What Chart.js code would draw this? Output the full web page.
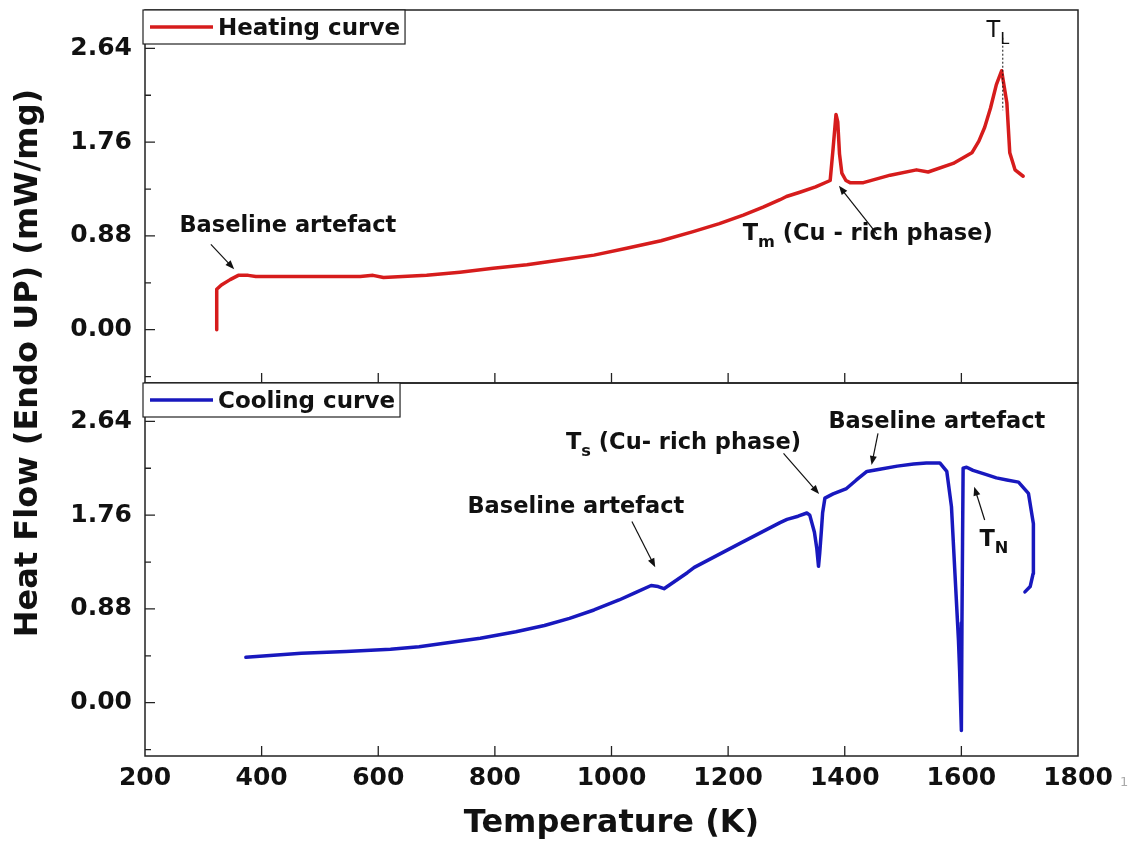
<!DOCTYPE html>
<html><head><meta charset="utf-8">
<script src="https://cdn.jsdelivr.net/npm/chart.js@4.4.1/dist/chart.umd.min.js"></script>
<style>
html,body{margin:0;padding:0;background:#fff;}
#wrap{position:relative;width:1133px;height:850px;overflow:hidden;background:#fff;}
canvas{position:absolute;left:0;}
#c1{top:0;} #c2{top:376px;}
#ytitle{position:absolute;left:-273px;top:343px;width:600px;height:40px;line-height:40px;text-align:center;font:bold 32px "DejaVu Sans";color:#111;transform:rotate(-90deg);white-space:nowrap;}
#page{position:absolute;left:1120px;top:774px;font:13px "DejaVu Sans";color:#aaa;}
</style></head>
<body><div id="wrap">
<canvas id="c1" width="1133" height="390"></canvas>
<canvas id="c2" width="1133" height="474"></canvas>
<div id="ytitle">Heat Flow (Endo UP) (mW/mg)</div>
<div id="page">1</div>
</div>
<script>
// ---------- data ----------
const xTickValues = [200, 400, 600, 800, 1000, 1200, 1400, 1600, 1800];
const yTickValues = [0.00, 0.88, 1.76, 2.64];
const yMinorTicks = [-0.44, 0.44, 1.32, 2.20];

const heatLabel = 'Heating curve';
const heatT = [323, 323, 331, 346, 360, 377, 390, 450, 520, 569, 591, 609, 683, 740, 797, 855, 912, 970, 1026, 1085,
               1140, 1185, 1226, 1260, 1289, 1300, 1323, 1350, 1375, 1380, 1385, 1388, 1391, 1395, 1402, 1409, 1432, 1478, 1523, 1543,
               1586, 1618, 1630, 1640, 1650, 1660, 1669, 1678, 1683, 1692, 1706];
const heatV = [0.00, 0.38, 0.42, 0.47, 0.51, 0.51, 0.50, 0.50, 0.50, 0.50, 0.51, 0.49, 0.51, 0.54, 0.576, 0.61, 0.654, 0.70, 0.764, 0.835,
               0.92, 0.995, 1.076, 1.15, 1.22, 1.25, 1.29, 1.34, 1.40, 1.70, 2.02, 1.95, 1.65, 1.47, 1.40, 1.38, 1.38, 1.45, 1.50, 1.48,
               1.56, 1.66, 1.77, 1.90, 2.08, 2.30, 2.43, 2.13, 1.66, 1.50, 1.44];

const coolLabel = 'Cooling curve';
const coolT = [1709, 1718, 1723, 1724, 1723, 1715, 1698, 1678, 1660, 1643, 1620, 1609, 1603, 1602, 1601, 1600, 1597, 1595, 1589, 1583,
               1575, 1563, 1540, 1518, 1490, 1460, 1438, 1420, 1403, 1380, 1366, 1362, 1360, 1357, 1355, 1352, 1348, 1340, 1335, 1320,
               1301, 1289, 1222, 1142, 1130, 1090, 1080, 1068, 1040, 1013, 970, 928, 885, 836, 775, 713, 670, 621, 545, 468, 373];
const coolV = [1.04, 1.09, 1.21, 1.45, 1.68, 1.965, 2.07, 2.09, 2.11, 2.14, 2.18, 2.21, 2.20, 1.50, 0.75, -0.26, 0.30, 0.59, 1.21, 1.84,
               2.17, 2.25, 2.25, 2.24, 2.22, 2.19, 2.17, 2.09, 2.01, 1.96, 1.92, 1.78, 1.62, 1.40, 1.28, 1.45, 1.60, 1.76, 1.78, 1.75,
               1.72, 1.69, 1.50, 1.27, 1.22, 1.07, 1.09, 1.10, 1.03, 0.964, 0.87, 0.792, 0.725, 0.666, 0.605, 0.557, 0.525, 0.501, 0.48, 0.464, 0.426];

// ---------- annotations (data coordinates) ----------
const annTop = [
  {kind:'text', x:259, y:0.992, parts:[['Baseline artefact']]},
  {kind:'arrow', from:[313, 0.80], to:[353, 0.567]},
  {kind:'text', x:1225, y:0.915, parts:[['T'], ['m', true], [' (Cu - rich phase)']]},
  {kind:'arrow', from:[1455, 0.90], to:[1390, 1.35]},
  {kind:'text', x:1643, y:2.82, weight:'normal', parts:[['T'], ['L', true]]},
  {kind:'dotted', from:[1671, 2.74], to:[1671, 2.06]}
];
const annBot = [
  {kind:'text', x:922, y:2.456, parts:[['T'], ['s', true], [' (Cu- rich phase)']]},
  {kind:'arrow', from:[1295, 2.34], to:[1356, 1.958]},
  {kind:'text', x:1372, y:2.653, parts:[['Baseline artefact']]},
  {kind:'arrow', from:[1457, 2.528], to:[1446, 2.231]},
  {kind:'text', x:753, y:1.855, parts:[['Baseline artefact']]},
  {kind:'arrow', from:[1035, 1.70], to:[1075, 1.271]},
  {kind:'text', x:1631, y:1.546, parts:[['T'], ['N', true]]},
  {kind:'arrow', from:[1640, 1.714], to:[1622, 2.027]}
];

// ---------- helpers ----------
const FONT = '"DejaVu Sans"';
function drawParts(ctx, x, yCap, parts, size, weight) {
  let cx = x;
  const base = yCap + 0.364 * size;
  parts.forEach(([t, sub]) => {
    const fs = sub ? size * 0.72 : size;
    ctx.font = `${weight} ${fs}px ${FONT}`;
    ctx.fillText(t, cx, sub ? base + size * 0.3 : base);
    cx += ctx.measureText(t).width;
  });
}
function drawArrow(ctx, x1, y1, x2, y2) {
  const a = Math.atan2(y2 - y1, x2 - x1), L = 9, W = 3.5;
  ctx.beginPath();
  ctx.moveTo(x1, y1);
  ctx.lineTo(x2 - L * 0.7 * Math.cos(a), y2 - L * 0.7 * Math.sin(a));
  ctx.stroke();
  ctx.beginPath();
  ctx.moveTo(x2, y2);
  ctx.lineTo(x2 - L * Math.cos(a) + W * Math.sin(a), y2 - L * Math.sin(a) - W * Math.cos(a));
  ctx.lineTo(x2 - L * Math.cos(a) - W * Math.sin(a), y2 - L * Math.sin(a) + W * Math.cos(a));
  ctx.closePath();
  ctx.fill();
}

const framePlugin = {
  id: 'frame',
  afterDatasetsDraw(chart) {
    const {ctx, chartArea: a} = chart;
    const x = chart.scales.x, y = chart.scales.y;
    ctx.save();
    ctx.strokeStyle = '#222';
    ctx.lineWidth = 1.5;
    ctx.strokeRect(a.left, a.top, a.right - a.left, a.bottom - a.top);
    ctx.lineWidth = 1.3;
    ctx.beginPath();
    yTickValues.forEach(v => { const p = y.getPixelForValue(v); ctx.moveTo(a.left, p); ctx.lineTo(a.left + 10, p); });
    yMinorTicks.forEach(v => { const p = y.getPixelForValue(v); ctx.moveTo(a.left, p); ctx.lineTo(a.left + 6, p); });
    xTickValues.forEach(v => {
      if (v > x.min && v < x.max) { const p = x.getPixelForValue(v); ctx.moveTo(p, a.bottom); ctx.lineTo(p, a.bottom - 10); }
    });
    ctx.stroke();
    ctx.restore();
  }
};

const legendPlugin = {
  id: 'boxLegend',
  afterDraw(chart) {
    const {ctx, chartArea: a} = chart;
    const ds = chart.data.datasets[0];
    ctx.save();
    ctx.font = `bold 23px ${FONT}`;
    const tw = ctx.measureText(ds.label).width;
    const left = a.left - 2, top = a.top, h = 34;
    ctx.fillStyle = '#fff';
    ctx.fillRect(left, top, 73 + tw + 7, h);
    ctx.strokeStyle = '#222';
    ctx.lineWidth = 1.2;
    ctx.strokeRect(left, top, 73 + tw + 7, h);
    ctx.strokeStyle = ds.borderColor;
    ctx.lineWidth = 3.5;
    ctx.beginPath();
    ctx.moveTo(a.left + 5, top + h / 2);
    ctx.lineTo(a.left + 68, top + h / 2);
    ctx.stroke();
    ctx.fillStyle = '#111';
    ctx.textBaseline = 'alphabetic';
    ctx.fillText(ds.label, a.left + 73, top + h / 2 + 0.364 * 23);
    ctx.restore();
  }
};

const annotPlugin = {
  id: 'notes',
  afterDraw(chart, args, opts) {
    const {ctx} = chart;
    const x = chart.scales.x, y = chart.scales.y;
    ctx.save();
    ctx.fillStyle = '#111';
    ctx.strokeStyle = '#111';
    ctx.textBaseline = 'alphabetic';
    ctx.textAlign = 'left';
    (opts.items || []).forEach(it => {
      if (it.kind === 'text') {
        drawParts(ctx, x.getPixelForValue(it.x), y.getPixelForValue(it.y), it.parts, 22.5, it.weight || 'bold');
      } else if (it.kind === 'arrow') {
        ctx.lineWidth = 1.2;
        drawArrow(ctx, x.getPixelForValue(it.from[0]), y.getPixelForValue(it.from[1]),
                       x.getPixelForValue(it.to[0]), y.getPixelForValue(it.to[1]));
      } else if (it.kind === 'dotted') {
        ctx.lineWidth = 1;
        ctx.setLineDash([2, 2]);
        ctx.beginPath();
        ctx.moveTo(x.getPixelForValue(it.from[0]), y.getPixelForValue(it.from[1]));
        ctx.lineTo(x.getPixelForValue(it.to[0]), y.getPixelForValue(it.to[1]));
        ctx.stroke();
        ctx.setLineDash([]);
      }
    });
    ctx.restore();
  }
};

function yScale() {
  return {
    type: 'linear', min: -0.5, max: 3.0,
    afterBuildTicks: s => { s.ticks = yTickValues.map(v => ({value: v})); },
    afterFit: s => { s.width = 145; s.paddingTop = 0; s.paddingBottom = 0; },
    grid: {display: false, drawTicks: false},
    border: {display: false},
    ticks: {font: {family: 'DejaVu Sans', size: 25, weight: 'bold'}, color: '#111', padding: 13,
            callback: v => Number(v).toFixed(2)}
  };
}

function makeChart(id, label, T, V, color, opts) {
  return new Chart(document.getElementById(id), {
    type: 'scatter',
    data: {datasets: [{
      label: label,
      data: T.map((t, i) => ({x: t, y: V[i]})),
      showLine: true, borderColor: color, backgroundColor: color,
      borderWidth: 3.5, pointRadius: 0, tension: 0,
      borderJoinStyle: 'round', borderCapStyle: 'round'
    }]},
    options: {
      responsive: false, animation: false, devicePixelRatio: 1,
      layout: {padding: opts.padding},
      plugins: {legend: {display: false}, tooltip: {enabled: false}, notes: {items: opts.notes}},
      scales: {x: opts.x, y: yScale()}
    },
    plugins: [framePlugin, annotPlugin, legendPlugin]
  });
}

makeChart('c1', heatLabel, heatT, heatV, 'rgb(214,28,28)', {
  padding: {left: 0, right: 55, top: 10, bottom: 7},
  notes: annTop,
  x: {type: 'linear', min: 200, max: 1800, display: false}
});

makeChart('c2', coolLabel, coolT, coolV, 'rgb(24,24,190)', {
  padding: {left: 0, right: 55, top: 7, bottom: 0},
  notes: annBot,
  x: {
    type: 'linear', min: 200, max: 1800, position: 'bottom',
    afterBuildTicks: s => { s.ticks = xTickValues.map(v => ({value: v})); },
    afterFit: s => { s.height = 94; s.paddingLeft = 0; s.paddingRight = 0; },
    grid: {display: false, drawTicks: false},
    border: {display: false},
    ticks: {font: {family: 'DejaVu Sans', size: 25, weight: 'bold'}, color: '#111', padding: 7,
            autoSkip: false, maxRotation: 0, callback: v => String(v)},
    title: {display: true, text: 'Temperature (K)', color: '#111',
            font: {family: 'DejaVu Sans', size: 32, weight: 'bold'}, padding: {top: 4, bottom: 7}}
  }
});
</script>
</body></html>
